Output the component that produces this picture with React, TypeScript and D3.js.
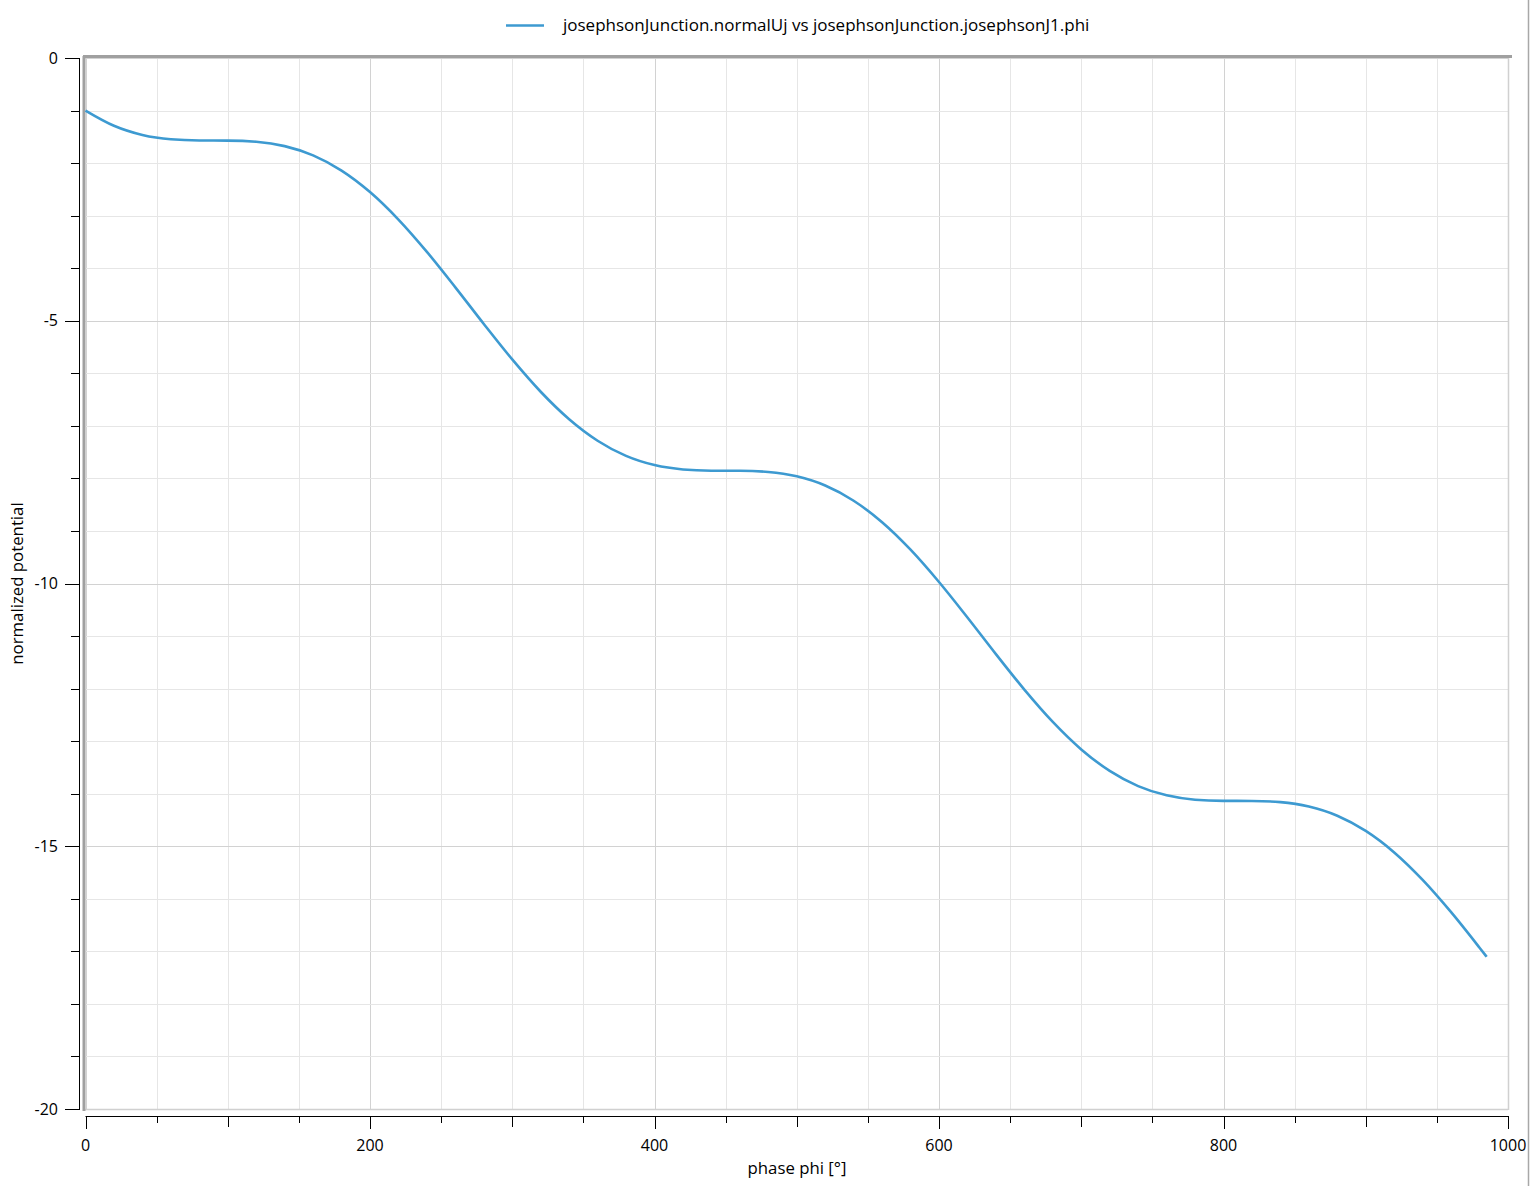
import React from "react";
import * as d3 from "d3";

const phiDeg: number[] = [0, 20, 40, 60, 80, 100, 120, 140, 160, 180, 200, 220, 240, 260, 280, 300, 320, 340, 360, 380, 400, 420, 440, 460, 480, 500, 520, 540, 560, 580, 600, 620, 640, 660, 680, 700, 720, 740, 760, 780, 800, 820, 840, 860, 880, 900, 920, 940, 960, 980, 985];
const normalUj: number[] = [-1.0, -1.289, -1.464, -1.547, -1.57, -1.572, -1.594, -1.677, -1.853, -2.142, -2.551, -3.074, -3.689, -4.364, -5.061, -5.736, -6.351, -6.874, -7.283, -7.572, -7.747, -7.83, -7.853, -7.855, -7.878, -7.961, -8.136, -8.425, -8.834, -9.357, -9.972, -10.647, -11.344, -12.019, -12.634, -13.157, -13.566, -13.855, -14.031, -14.114, -14.136, -14.138, -14.161, -14.244, -14.419, -14.708, -15.117, -15.64, -16.255, -16.931, -17.104];

const xTickLabels: number[] = [0, 200, 400, 600, 800, 1000];
const yTickLabels: number[] = [0, -5, -10, -15, -20];
const legendLabel = "josephsonJunction.normalUj vs josephsonJunction.josephsonJ1.phi";
const xTitle = "phase phi [°]";
const yTitle = "normalized potential";

const W = 1531;
const H = 1186;
const left = 85.5;
const right = 1508;
const top = 58;
const bottom = 1109;
const FONT = "'Open Sans', 'Noto Sans', sans-serif";

export default function App() {
  const x = d3.scaleLinear().domain([0, 1000]).range([left, right]);
  const y = d3.scaleLinear().domain([0, -20]).range([top, bottom]);
  const line = d3
    .line<number>()
    .x((_, i) => x(phiDeg[i]))
    .y((d) => y(d))
    .curve(d3.curveMonotoneX);

  const xMinor = d3.range(0, 1001, 50);
  const yMinor = d3.range(0, -21, -1);
  const axisY = 1116;
  const axisX = 79;

  return (
    <svg
      width={W}
      height={H}
      style={{ position: "absolute", left: 0, top: 0, background: "#fff" }}
      fontFamily={FONT}
    >
      <rect x={0} y={0} width={W} height={H} fill="#fff" />
      {/* grid */}
      {xMinor.map((v) => (
        <line
          key={"gx" + v}
          x1={Math.round(x(v)) + 0.5}
          x2={Math.round(x(v)) + 0.5}
          y1={top}
          y2={bottom}
          stroke={v % 200 === 0 ? "#d2d2d2" : "#e6e6e6"}
          strokeWidth={1}
        />
      ))}
      {yMinor.map((v) => (
        <line
          key={"gy" + v}
          x1={left}
          x2={right}
          y1={Math.round(y(v)) + 0.5}
          y2={Math.round(y(v)) + 0.5}
          stroke={v % 5 === 0 ? "#d2d2d2" : "#e6e6e6"}
          strokeWidth={1}
        />
      ))}
      {/* plot border */}
      <line x1={right + 0.5} x2={right + 0.5} y1={top} y2={bottom + 1} stroke="#d0d0d0" strokeWidth={1.5} />
      <line x1={left} x2={right} y1={bottom + 0.5} y2={bottom + 0.5} stroke="#d0d0d0" strokeWidth={1.5} />
      <line x1={83} x2={1512} y1={56.5} y2={56.5} stroke="#a0a0a0" strokeWidth={3} />
      <line x1={84} x2={84} y1={56} y2={1111} stroke="#a0a0a0" strokeWidth={3} />

      {/* curve */}
      <path d={line(normalUj) || ""} fill="none" stroke="#3d9ad1" strokeWidth={2.6} strokeLinejoin="round" />

      {/* y axis */}
      <line x1={axisX + 0.5} x2={axisX + 0.5} y1={top} y2={bottom + 1} stroke="#000" strokeWidth={1} />
      {yMinor.map((v) => (
        <line
          key={"ty" + v}
          x1={v % 5 === 0 ? 65 : 71}
          x2={axisX + 1}
          y1={Math.round(y(v)) + 0.5}
          y2={Math.round(y(v)) + 0.5}
          stroke="#000"
          strokeWidth={1}
        />
      ))}
      {yTickLabels.map((v) => (
        <text key={"ly" + v} x={58} y={y(v)} dy="0.35em" textAnchor="end" fontSize={16} fill="#000">
          {v === 0 ? "0" : "-" + Math.abs(v)}
        </text>
      ))}

      {/* x axis */}
      <line x1={left} x2={right + 1} y1={axisY + 0.5} y2={axisY + 0.5} stroke="#000" strokeWidth={1} />
      {xMinor.map((v) => (
        <line
          key={"tx" + v}
          x1={Math.round(x(v)) + 0.5}
          x2={Math.round(x(v)) + 0.5}
          y1={axisY}
          y2={v % 200 === 0 ? 1129 : v % 100 === 0 ? 1127 : 1123}
          stroke="#000"
          strokeWidth={1}
        />
      ))}
      {xTickLabels.map((v) => (
        <text key={"lx" + v} x={x(v)} y={1151} textAnchor="middle" fontSize={16} fill="#000">
          {v}
        </text>
      ))}

      {/* titles */}
      <text x={797} y={1174} textAnchor="middle" fontSize={16.8} fill="#000">
        {xTitle}
      </text>
      <text
        transform={`translate(23, ${(top + bottom) / 2}) rotate(-90)`}
        textAnchor="middle"
        fontSize={16.8}
        fill="#000"
      >
        {yTitle}
      </text>

      {/* legend */}
      <line x1={506} x2={544} y1={25.5} y2={25.5} stroke="#3d9ad1" strokeWidth={2.6} />
      <text x={563} y={31} fontSize={17} fill="#000">
        {legendLabel}
      </text>

      {/* right window border */}
      <line x1={1528.5} x2={1528.5} y1={0} y2={H} stroke="#a8a8a8" strokeWidth={1.5} />
    </svg>
  );
}
